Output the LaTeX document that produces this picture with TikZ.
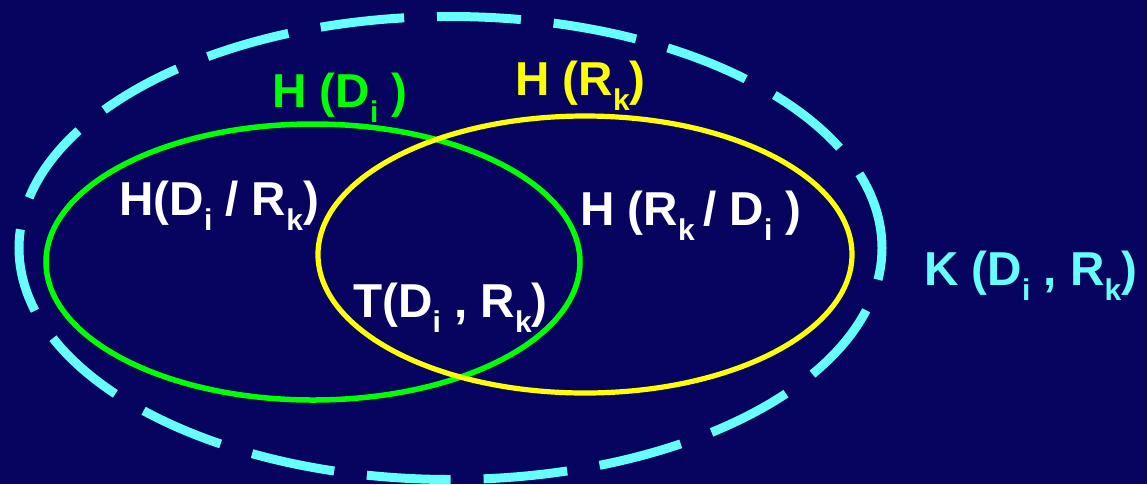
\documentclass[tikz,border=0pt]{standalone}
\usepackage{fontspec}
\setmainfont{Liberation Sans}
\definecolor{bgc}{RGB}{6,4,94}
\definecolor{cyanc}{RGB}{102,255,255}
\definecolor{greenc}{RGB}{0,255,0}
\definecolor{yellowc}{RGB}{255,255,0}
\newcommand\sbx[1]{\raisebox{-7.5pt}{\fontsize{15pt}{15pt}\selectfont #1}}
\begin{document}
\begin{tikzpicture}[x=0.5pt,y=-0.5pt,
  lbl/.style={anchor=base west, inner sep=0pt, font=\fontsize{23.8pt}{24pt}\selectfont\bfseries}]
\fill[bgc] (0,0) rectangle (1147,484);
\useasboundingbox (0,0) rectangle (1147,484);
\draw[cyanc, line width=4.5pt, dash pattern=on 42pt off 16.45pt, dash phase=26pt]
  (450.5,248) ellipse [x radius=431.5, y radius=231.5];
\draw[greenc, line width=2.75pt] (313,262) ellipse [x radius=267, y radius=138];
\draw[yellowc, line width=2.6pt] (585,254.5) ellipse [x radius=267, y radius=138.5];
\node[lbl, text=greenc] (hd) at (272,107) {H (D\sbx{i} )};
\node[lbl, text=yellowc] (hr) at (515,95) {H (R\sbx{k})};
\node[lbl, text=white] (hdr) at (119,215) {H(D\sbx{i} / R\sbx{k})};
\node[lbl, text=white] (hrd) at (580,225) {H (R\sbx{k\ }/ D\sbx{i} )};
\node[lbl, text=white] (t) at (353,317) {T(D\sbx{i} , R\sbx{k})};
\node[lbl, text=cyanc] (k) at (924,285) {K (D\sbx{i} , R\sbx{k})};
\end{tikzpicture}
\end{document}
